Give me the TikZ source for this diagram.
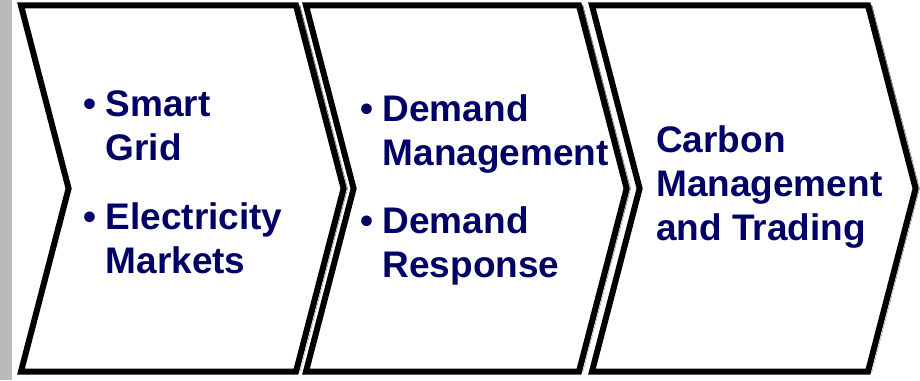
\documentclass[tikz,border=0pt]{standalone}
\usepackage{fontspec}
\setmainfont{Liberation Sans}
\usetikzlibrary{calc, positioning}

\definecolor{navy}{RGB}{0,0,102}
\definecolor{bargray}{RGB}{186,186,186}
\definecolor{shade}{RGB}{230,230,230}

\begin{document}
\begin{tikzpicture}[x=1pt, y=1pt, font=\fontsize{37}{44}\selectfont\bfseries,
  chev/.style={draw=black, fill=white, line width=6pt, line join=miter},
  lbl/.style={text=navy, anchor=base west, inner sep=0pt}]
\useasboundingbox (0,0) rectangle (920,380);
\fill[bargray] (0,0) rectangle (12,380);

% shadows first, then the three arrows on top
\foreach \x/\w in {21/275, 306/273, 592/276}
  \fill[shade] (\x+4,374.5) -- ++(\w,0) -- ++(47.6,-183) -- ++(-47.6,-183) -- ++(-\w,0) -- ++(47.6,183) -- cycle;
\foreach \x/\w in {21/275, 306/273, 592/276}
  \draw[chev] (\x,374.5) -- ++(\w,0) -- ++(47.6,-183) -- ++(-47.6,-183) -- ++(-\w,0) -- ++(47.6,183) -- cycle;

\node[lbl] (grid) at (83.5,263) {\begin{tabular}[t]{@{}p{22pt}@{}l@{}}
  •&Smart\\&Grid\\[25pt]
  •&Electricity\\&Markets\end{tabular}};
\node[lbl] (demand) at (360.5,258) {\begin{tabular}[t]{@{}p{22pt}@{}l@{}}
  •&Demand\\&Management\\[24pt]
  •&Demand\\&Response\end{tabular}};
\node[lbl] (carbon) at (656,227) {\begin{tabular}[t]{@{}l@{}}
  Carbon\\Management\\and Trading\end{tabular}};
\end{tikzpicture}
\end{document}
